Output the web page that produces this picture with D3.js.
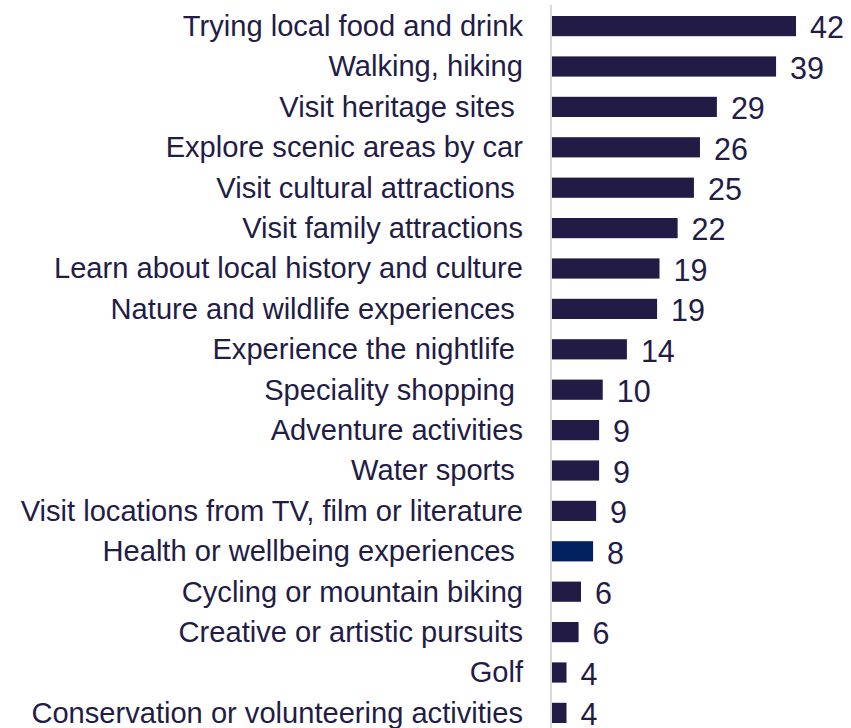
<!DOCTYPE html>
<html>
<head>
<meta charset="utf-8">
<script src="https://cdn.jsdelivr.net/npm/d3@7"></script>
<style>
  html, body { margin: 0; padding: 0; background: #fff; }
  svg text { white-space: pre; }
</style>
</head>
<body>
<svg id="chart" width="851" height="728"></svg>
<script>
const categories = [
  "Trying local food and drink",
  "Walking, hiking",
  "Visit heritage sites ",
  "Explore scenic areas by car",
  "Visit cultural attractions ",
  "Visit family attractions",
  "Learn about local history and culture",
  "Nature and wildlife experiences ",
  "Experience the nightlife ",
  "Speciality shopping ",
  "Adventure activities",
  "Water sports ",
  "Visit locations from TV, film or literature",
  "Health or wellbeing experiences ",
  "Cycling or mountain biking",
  "Creative or artistic pursuits",
  "Golf",
  "Conservation or volunteering activities"
];
const values = [42.0, 38.7, 28.9, 26.1, 25.1, 22.4, 19.4, 19.0, 14.0, 10.0, 9.4, 9.4, 8.9, 8.4, 6.4, 6.0, 4.0, 4.0];
const highlighted = ["Health or wellbeing experiences "];

const svg = d3.select("#chart");
const baseColor = "#221b46";
const highlightColor = "#002060";
const textColor = "#221c46";

const x = d3.scaleLinear().domain([1.6, 42]).range([552, 796]);
const y = d3.scaleBand().domain(categories).range([-4.2, 743.2]).paddingInner(0.5).paddingOuter(0.5);

const data = categories.map((c, i) => ({ c, v: values[i] }));

// bars
svg.append("g").selectAll("rect").data(data).join("rect")
  .attr("x", x(1.6))
  .attr("y", d => y(d.c))
  .attr("width", d => x(d.v) - x(1.6))
  .attr("height", y.bandwidth())
  .attr("fill", d => highlighted.includes(d.c) ? highlightColor : baseColor);

// axis line
svg.append("line")
  .attr("x1", 551).attr("x2", 551)
  .attr("y1", 5).attr("y2", 728)
  .attr("stroke", "#d9d9d9").attr("stroke-width", 2);

// category labels
svg.append("g").selectAll("text").data(data).join("text")
  .attr("x", 523)
  .attr("y", d => y(d.c) + y.bandwidth() / 2)
  .attr("dy", "0.34em")
  .attr("text-anchor", "end")
  .attr("font-family", "Liberation Sans, Arial, sans-serif")
  .attr("font-size", 29.1)
  .attr("fill", textColor)
  .text(d => d.c);

// value labels
svg.append("g").selectAll("text").data(data).join("text")
  .attr("x", d => x(d.v) + 14)
  .attr("y", d => y(d.c) + y.bandwidth() / 2)
  .attr("dy", "0.4em")
  .attr("font-family", "Liberation Sans, Arial, sans-serif")
  .attr("font-size", 30.5)
  .attr("fill", textColor)
  .text(d => d3.format(".0f")(d.v));
</script>
</body>
</html>
